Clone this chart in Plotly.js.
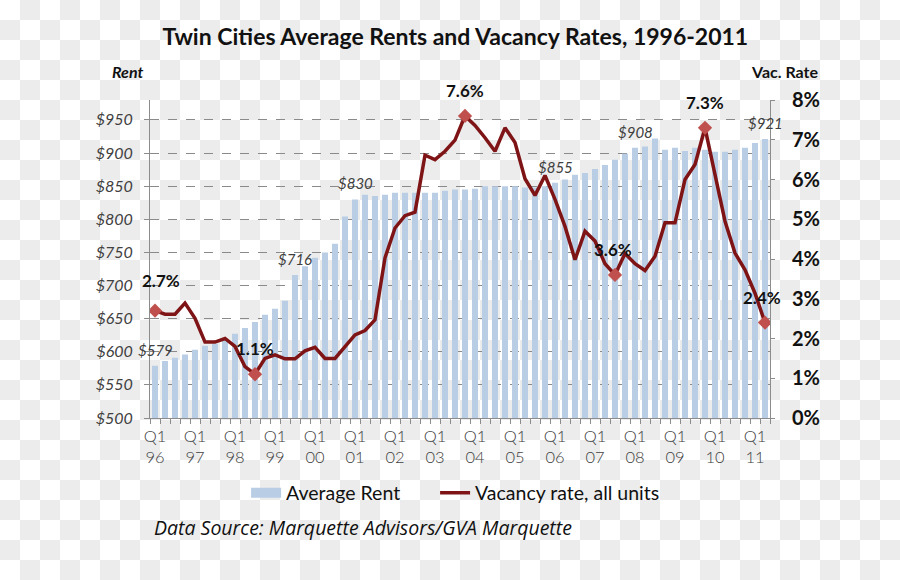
<!DOCTYPE html>
<html>
<head>
<meta charset="utf-8">
<script src="https://cdn.plot.ly/plotly-3.0.1.min.js"></script>
<style>
  html, body { margin: 0; padding: 0; }
  body {
    width: 900px; height: 580px; overflow: hidden;
    background-color: #ffffff;
    background-image: repeating-conic-gradient(#ececec 0 25%, #ffffff 0 50%);
    background-size: 40px 40px;
    background-position: 0 0;
  }
  #chart { width: 900px; height: 580px; }
</style>
</head>
<body>
<div id="chart"></div>
<script>
// Quarterly data, Q1 1996 .. Q2 2011
const averageRent = [
  579, 586, 591, 596, 603, 609, 612, 617, 627, 636, 645, 656, 665, 677, 716, 729,
  742, 750, 763, 804, 830, 837, 835, 837, 840, 840, 840, 840, 840, 843, 845, 845,
  846, 850, 850, 850, 850, 848, 848, 850, 855, 860, 867, 870, 876, 882, 890, 899,
  908, 910, 922, 905, 908, 903, 908, 905, 902, 902, 905, 908, 915, 921
];
const vacancyRate = [
  2.70, 2.61, 2.61, 2.89, 2.51, 1.91, 1.91, 2.00, 1.80, 1.29, 1.10, 1.50, 1.59, 1.49, 1.49, 1.69,
  1.78, 1.50, 1.50, 1.80, 2.09, 2.20, 2.47, 4.03, 4.78, 5.09, 5.18, 6.61, 6.50, 6.71, 6.99, 7.60,
  7.36, 7.05, 6.71, 7.30, 6.93, 6.02, 5.60, 6.10, 5.50, 4.82, 3.98, 4.70, 4.45, 3.88, 3.60, 4.14,
  3.88, 3.71, 4.07, 4.91, 4.91, 6.00, 6.38, 7.30, 6.17, 4.95, 4.15, 3.73, 3.14, 2.40
];
const tickLabels = ['Q1<br>96','Q1<br>97','Q1<br>98','Q1<br>99','Q1<br>00','Q1<br>01','Q1<br>02','Q1<br>03',
                    'Q1<br>04','Q1<br>05','Q1<br>06','Q1<br>07','Q1<br>08','Q1<br>09','Q1<br>10','Q1<br>11'];
const tickPositions = [0, 4, 8, 12, 16, 20, 24, 28, 32, 36, 40, 44, 48, 52, 56, 60];
const rentLabelIdx = [0, 14, 20, 40, 48, 61];
const vacLabelIdx = [0, 10, 31, 46, 55, 61];
const vacLabelXShift = [6, 0, 0, -2, 0, -3];
const vacLabelYShift = [18, 13, 13, 13, 13, 13];

const quarterIdx = averageRent.map((_, i) => i);

const barColor = '#b9cde5';
const lineColor = '#7f1416';
const markerColor = '#c0504d';
const axisColor = '#8c8c8c';
const legendPad = '&nbsp;&nbsp;&nbsp;&nbsp;&nbsp;&nbsp;';

const traces = [
  {
    type: 'bar', x: quarterIdx, y: averageRent, yaxis: 'y',
    marker: { color: barColor }, width: 0.6, showlegend: false, hoverinfo: 'skip'
  },
  {
    type: 'scatter', mode: 'lines', x: [null], y: [null], name: 'Average Rent' + legendPad,
    line: { color: barColor, width: 11 }, hoverinfo: 'skip'
  },
  {
    type: 'scatter', mode: 'lines', x: quarterIdx, y: vacancyRate, yaxis: 'y2',
    name: 'Vacancy rate, all units', line: { color: lineColor, width: 3.5 }
  },
  {
    type: 'scatter', mode: 'markers', yaxis: 'y2', showlegend: false,
    x: vacLabelIdx, y: vacLabelIdx.map(i => vacancyRate[i]),
    marker: { symbol: 'diamond', size: 11, color: markerColor }
  }
];

const annotations = [];
rentLabelIdx.forEach(i => {
  annotations.push({
    x: i, y: averageRent[i], xref: 'x', yref: 'y', text: '$' + averageRent[i],
    showarrow: false, yanchor: 'bottom', yshift: 5,
    font: { family: 'Lato', size: 15, style: 'italic', color: '#404040' }
  });
});
vacLabelIdx.forEach((i, k) => {
  annotations.push({
    x: i, y: vacancyRate[i], xref: 'x', yref: 'y2', text: vacancyRate[i].toFixed(1) + '%',
    showarrow: false, yanchor: 'bottom', yshift: vacLabelYShift[k], xshift: vacLabelXShift[k],
    font: { family: 'Lato', size: 17, weight: 'bold', color: '#111111' }
  });
});
annotations.push({
  xref: 'paper', yref: 'paper', x: -0.037, y: 1.089, text: 'Rent', showarrow: false,
  xanchor: 'center', yanchor: 'middle',
  font: { family: 'Lato', size: 16, weight: 'bold', style: 'italic', color: '#111111' }
});
annotations.push({
  xref: 'paper', yref: 'paper', x: 1.081, y: 1.089, text: 'Vac. Rate', showarrow: false,
  xanchor: 'right', yanchor: 'middle',
  font: { family: 'Lato', size: 16, weight: 'bold', color: '#111111' }
});
annotations.push({
  xref: 'paper', yref: 'paper', x: 0.003, y: -0.343,
  text: 'Data Source: Marquette Advisors/GVA Marquette', showarrow: false,
  xanchor: 'left', yanchor: 'middle',
  font: { family: 'Open Sans', size: 19.5, style: 'italic', color: '#111111' }
});

const layout = {
  width: 900, height: 580,
  margin: { l: 150, r: 130, t: 100, b: 162 },
  paper_bgcolor: 'rgba(0,0,0,0)', plot_bgcolor: 'rgba(0,0,0,0)',
  title: {
    text: '<b>Twin Cities Average Rents and Vacancy Rates, 1996-2011</b>',
    x: 0.506, xanchor: 'center', y: 0.936, yanchor: 'middle',
    font: { family: 'Lato', size: 23, color: '#111111' }
  },
  showlegend: true,
  legend: {
    orientation: 'h', x: 0.155, xanchor: 'left', y: -0.236, yanchor: 'middle',
    bgcolor: 'rgba(0,0,0,0)', font: { family: 'Lato', size: 19.5, color: '#111111' }
  },
  bargap: 0.4,
  xaxis: {
    range: [-0.5, 61.5], tickmode: 'array', tickvals: tickPositions, ticktext: tickLabels,
    ticks: '', showline: true, linecolor: axisColor, linewidth: 1, showgrid: false, zeroline: false,
    ticklabelstandoff: 3,
    tickfont: { family: 'Lato', size: 16.5, weight: 300, color: '#404040' },
    minor: { tick0: -0.5, dtick: 1, ticks: 'outside', ticklen: 5, tickcolor: axisColor, showgrid: false },
    fixedrange: true
  },
  yaxis: {
    range: [500, 980], tick0: 500, dtick: 50, tickprefix: '$',
    showgrid: true, gridcolor: '#8a8a8a', griddash: 'dash', gridwidth: 1,
    showline: true, linecolor: axisColor, zeroline: false,
    ticks: 'outside', ticklen: 5, tickcolor: axisColor, ticklabelstandoff: 8,
    tickfont: { family: 'Lato', size: 16, style: 'italic', color: '#404040' },
    fixedrange: true
  },
  yaxis2: {
    overlaying: 'y', side: 'right', range: [0, 8], tick0: 0, dtick: 1, ticksuffix: '%',
    showgrid: false, showline: true, linecolor: axisColor, zeroline: false,
    ticks: 'outside', ticklen: 4, tickcolor: axisColor, ticklabelstandoff: 13,
    tickfont: { family: 'Lato', size: 20, weight: 'bold', color: '#111111' },
    fixedrange: true
  },
  annotations: annotations
};

Plotly.newPlot('chart', traces, layout, { displayModeBar: false, staticPlot: true });
</script>
</body>
</html>
